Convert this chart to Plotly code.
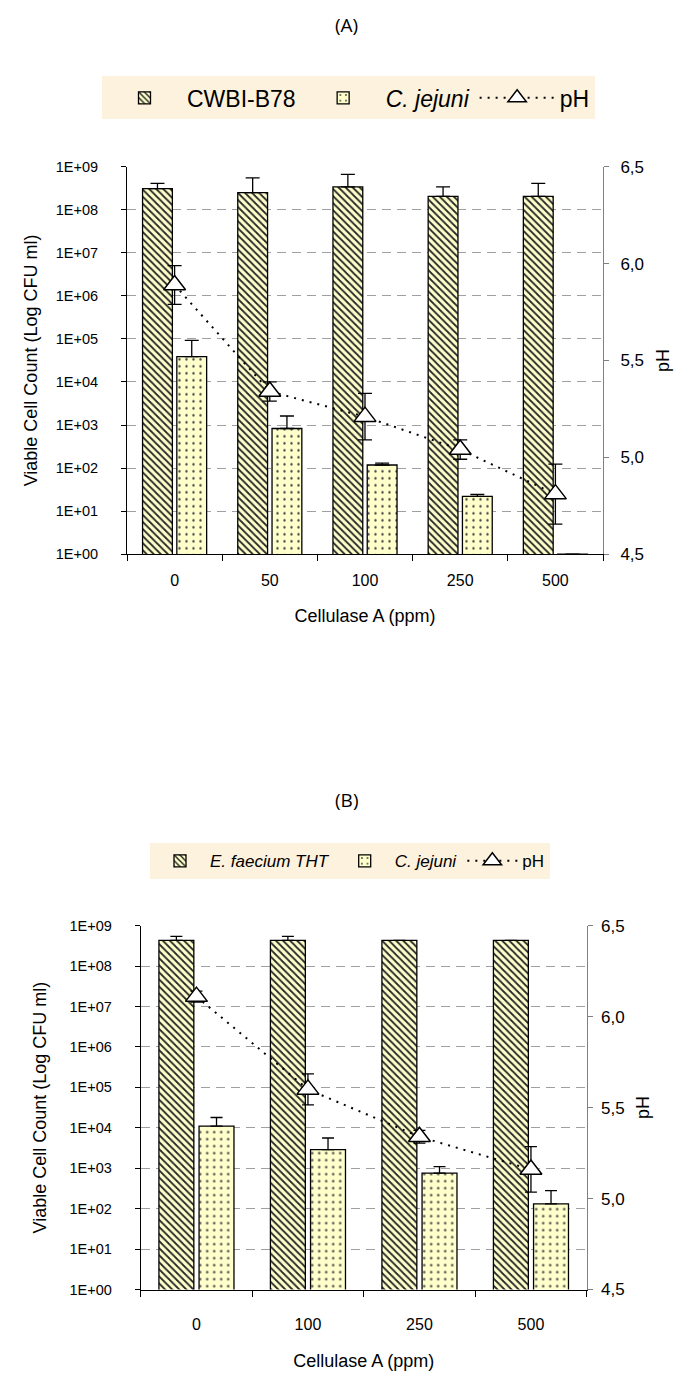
import plotly.graph_objects as go

W, H = 678, 1374

# ---------------- Panel A data ----------------
cats_a = ["0", "50", "100", "250", "500"]
cwbi_a = [3.1e8, 2.5e8, 3.4e8, 2.05e8, 2.05e8]
cwbi_a_err = [1.0e8, 3.0e8, 3.3e8, 1.35e8, 2.05e8]
cj_a = [3.9e4, 830, 118, 22, 1]
cj_a_err = [5.4e4, 790, 13, 2.5, 0]
ph_a = [5.89, 5.34, 5.21, 5.04, 4.81]
ph_a_err = [0.10, 0.05, 0.12, 0.05, 0.155]

# ---------------- Panel B data ----------------
cats_b = ["0", "100", "250", "500"]
ef_b = [4.3e8, 4.3e8, 4.3e8, 4.3e8]
ef_b_err = [1.1e8, 1.1e8, 0.03e8, 0.03e8]
cj_b = [1.1e4, 2.9e3, 760, 132]
cj_b_err = [0.7e4, 2.7e3, 340, 148]
ph_b = [6.11, 5.60, 5.34, 5.16]
ph_b_err = [0.03, 0.085, 0.035, 0.125]

log_tickvals = [1, 1e1, 1e2, 1e3, 1e4, 1e5, 1e6, 1e7, 1e8, 1e9]
log_ticktext = ["1E+00", "1E+01", "1E+02", "1E+03", "1E+04",
                "1E+05", "1E+06", "1E+07", "1E+08", "1E+09"]
ph_tickvals = [4.5, 5.0, 5.5, 6.0, 6.5]
ph_ticktext = ["4,5", "5,0", "5,5", "6,0", "6,5"]

FONT = "Liberation Sans, Arial, sans-serif"
YELLOW = "#FFFFCC"
HATCH = dict(shape="\\", size=5, solidity=0.36, fgcolor="#262626", bgcolor=YELLOW, fillmode="replace")
DOTS = dict(shape=".", size=7, solidity=0.09, fgcolor="#444444", bgcolor=YELLOW, fillmode="replace")
BLACK = "#000000"
CREAM = "#FDF2DD"


def px_x(p):
    return p / W


def px_y(p):
    return 1 - p / H


fig = go.Figure()


def up_err(arr, w):
    return dict(type="data", symmetric=False, array=arr, arrayminus=[0] * len(arr),
                color=BLACK, thickness=1.3, width=w)


def ph_trace(cats, vals, errs, xa, ya, leg, w):
    return go.Scatter(x=cats, y=vals, name="pH", xaxis=xa, yaxis=ya,
                      mode="lines+markers",
                      line=dict(color=BLACK, width=2, dash="2px,6px"),
                      marker=dict(symbol="triangle-up", size=19, color="white",
                                  line=dict(color=BLACK, width=1.5)),
                      error_y=dict(type="data", array=errs, color=BLACK,
                                   thickness=1.3, width=w),
                      legend=leg)


# Panel A traces
fig.add_trace(go.Bar(x=cats_a, y=cwbi_a, name="CWBI-B78", xaxis="x", yaxis="y",
                     marker=dict(color=YELLOW, pattern=HATCH, line=dict(color=BLACK, width=1.3)),
                     error_y=up_err(cwbi_a_err, 7), legend="legend"))
fig.add_trace(go.Bar(x=cats_a, y=cj_a, name="<i>C. jejuni</i>", xaxis="x", yaxis="y",
                     marker=dict(color=YELLOW, pattern=DOTS, line=dict(color=BLACK, width=1.3)),
                     error_y=up_err(cj_a_err, 7), legend="legend"))
fig.add_trace(ph_trace(cats_a, ph_a, ph_a_err, "x", "y2", "legend", 7))

# Panel B traces
fig.add_trace(go.Bar(x=cats_b, y=ef_b, name="<i>E. faecium THT</i>", xaxis="x2", yaxis="y3",
                     marker=dict(color=YELLOW, pattern=HATCH, line=dict(color=BLACK, width=1.3)),
                     error_y=up_err(ef_b_err, 6), legend="legend2"))
fig.add_trace(go.Bar(x=cats_b, y=cj_b, name="<i>C. jejuni</i>", xaxis="x2", yaxis="y3",
                     marker=dict(color=YELLOW, pattern=DOTS, line=dict(color=BLACK, width=1.3)),
                     error_y=up_err(cj_b_err, 6), legend="legend2"))
fig.add_trace(ph_trace(cats_b, ph_b, ph_b_err, "x2", "y4", "legend2", 6))

ytickfont = dict(family=FONT, size=14.5, color=BLACK)
xtickfont = dict(family=FONT, size=16, color=BLACK)
phtickfont = dict(family=FONT, size=17, color=BLACK)
titlefont = dict(family=FONT, size=18, color=BLACK)


def xaxis_cfg(domain, anchor, cats, lab_off, title_off):
    return dict(domain=domain, anchor=anchor, type="category", categoryorder="array",
                categoryarray=cats, showline=True, linecolor=BLACK, linewidth=1,
                ticks="outside", tickson="boundaries", ticklen=6, tickcolor=BLACK,
                ticklabelstandoff=lab_off, tickfont=xtickfont, showgrid=False, zeroline=False,
                title=dict(text="Cellulase A (ppm)", font=titlefont, standoff=title_off),
                fixedrange=True)


def ylog_cfg(domain, anchor, title_off):
    return dict(domain=domain, anchor=anchor, type="log", range=[0, 9],
                tickvals=log_tickvals, ticktext=log_ticktext, tickfont=ytickfont,
                ticklabelstandoff=20,
                showgrid=True, gridcolor="#A0A0A0", gridwidth=1, griddash="9px,6px",
                showline=True, linecolor=BLACK, linewidth=1, ticks="outside",
                ticklen=5, tickcolor=BLACK, zeroline=False,
                title=dict(text="Viable Cell Count (Log CFU ml)", font=titlefont,
                           standoff=title_off))


def yph_cfg(over, anchor, lab_off, title_off):
    return dict(overlaying=over, anchor=anchor, side="right", range=[4.5, 6.5],
                tickvals=ph_tickvals, ticktext=ph_ticktext, tickfont=phtickfont,
                ticklabelstandoff=lab_off,
                showgrid=False, zeroline=False, showline=True, linecolor="#808080",
                linewidth=1, ticks="outside", ticklen=5, tickcolor="#808080",
                title=dict(text="pH", font=titlefont, standoff=title_off))


def ycross_cfg(over, anchor):
    return dict(overlaying=over, anchor=anchor, side="right", range=[4.5, 6.5],
                tickvals=ph_tickvals, showticklabels=False, showgrid=False,
                zeroline=False, showline=False, ticks="inside", ticklen=5,
                tickcolor="#808080")


a_dom_x = [px_x(127), px_x(603)]
a_dom_y = [px_y(552.8), px_y(160)]
b_dom_x = [px_x(140.7), px_x(586.7)]
b_dom_y = [px_y(1298.5), px_y(929.5)]

fig.update_layout(
    width=W, height=H, autosize=False,
    margin=dict(l=0, r=0, t=0, b=0),
    paper_bgcolor="white", plot_bgcolor="white",
    font=dict(family=FONT, color=BLACK),
    barmode="group", bargap=0.28, bargroupgap=0.13,
    xaxis=xaxis_cfg(a_dom_x, "y", cats_a, 12, 21),
    yaxis=ylog_cfg(a_dom_y, "x", 13),
    yaxis2=yph_cfg("y", "x", 8, 13),
    yaxis5=ycross_cfg("y", "x"),
    xaxis2=xaxis_cfg(b_dom_x, "y3", cats_b, 20, 22),
    yaxis3=ylog_cfg(b_dom_y, "x2", 18),
    yaxis4=yph_cfg("y3", "x2", 5, 12),
    yaxis6=ycross_cfg("y3", "x2"),
    legend=dict(x=px_x(102), y=px_y(68.3), xanchor="left", yanchor="top",
                orientation="h", bgcolor=CREAM, borderwidth=0, itemwidth=75,
                font=dict(family=FONT, size=23, color=BLACK), traceorder="normal"),
    legend2=dict(x=px_x(150), y=px_y(846), xanchor="left", yanchor="top",
                 orientation="h", bgcolor=CREAM, borderwidth=0, itemwidth=50,
                 font=dict(family=FONT, size=17, color=BLACK), traceorder="normal"),
    annotations=[
        dict(text="(A)", x=px_x(346.7), y=px_y(16), xref="paper", yref="paper",
             xanchor="center", yanchor="middle", showarrow=False,
             font=dict(family="Open Sans, sans-serif", size=19, color=BLACK)),
        dict(text="(B)", x=px_x(346.7), y=px_y(802), xref="paper", yref="paper",
             xanchor="center", yanchor="middle", showarrow=False,
             font=dict(family="Open Sans, sans-serif", size=19, color=BLACK)),
    ],
    showlegend=True,
)

fig.write_html("out.html")
